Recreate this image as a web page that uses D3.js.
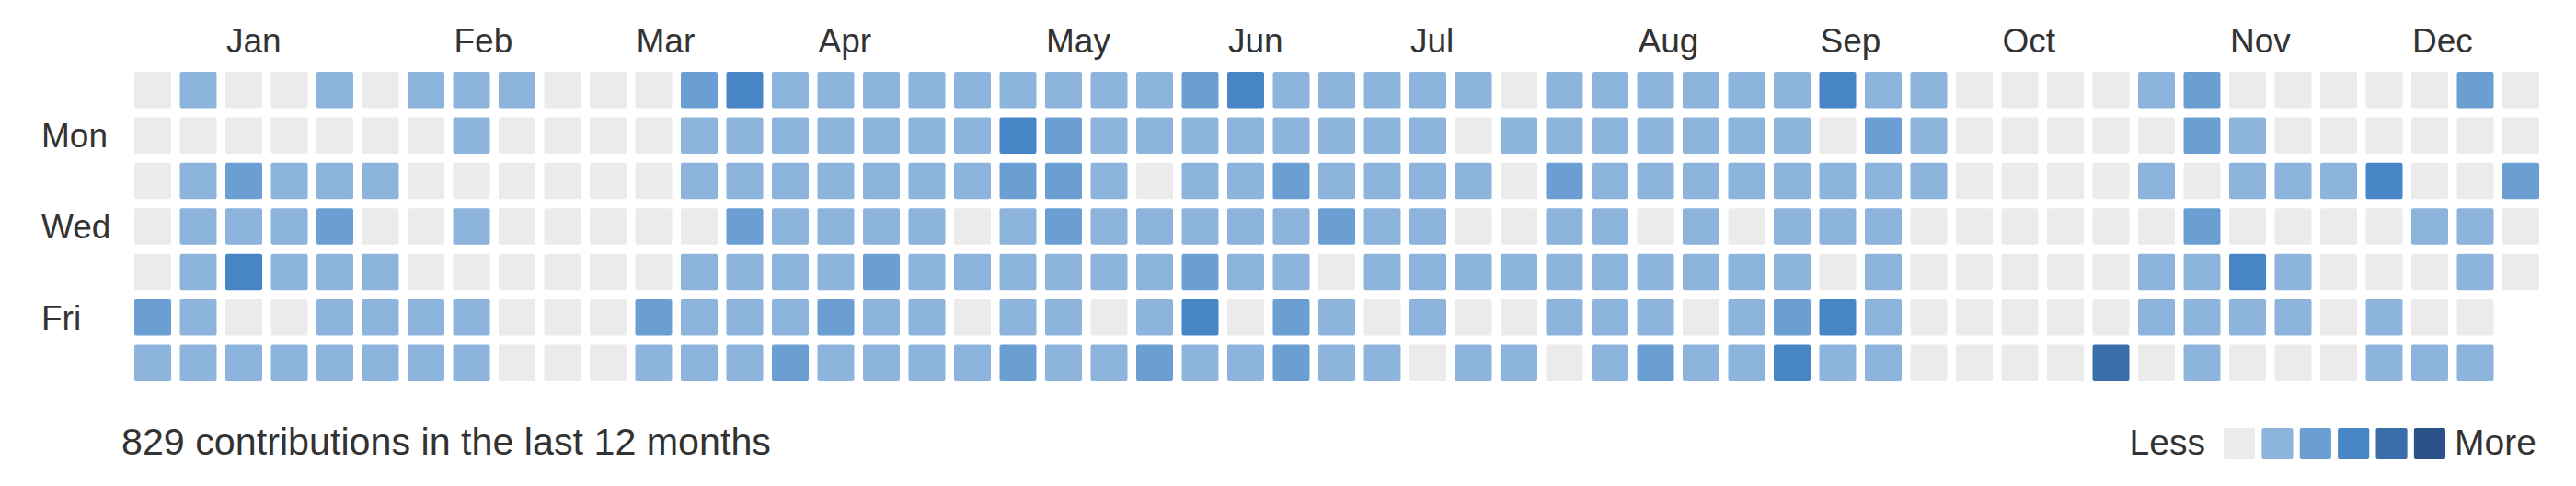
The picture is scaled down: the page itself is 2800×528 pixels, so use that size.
<!DOCTYPE html>
<html>
<head>
<meta charset="utf-8">
<script src="https://cdn.jsdelivr.net/npm/d3@7"></script>
<style>
  html, body { margin: 0; padding: 0; background: #fff; }
  text { font-family: "Liberation Sans", Arial, sans-serif; fill: #333; }
</style>
</head>
<body>
<div id="heatmap"></div>
<script>
// contribution level per week column, one array per weekday (Sun..Sat)
const sun = [0,1,0,0,1,0,1,1,1,0, 0,0,2,3,1,1,1,1,1,1, 1,1,1,2,3,1,1,1,1,1, 0,1,1,1,1,1,1,3,1,1, 0,0,0,0,1,2,0,0,0,0, 0,2,0];
const mon = [0,0,0,0,0,0,0,1,0,0, 0,0,1,1,1,1,1,1,1,3, 2,1,1,1,1,1,1,1,1,0, 1,1,1,1,1,1,1,0,2,1, 0,0,0,0,0,2,1,0,0,0, 0,0,0];
const tue = [0,1,2,1,1,1,0,0,0,0, 0,0,1,1,1,1,1,1,1,2, 2,1,0,1,1,2,1,1,1,1, 0,2,1,1,1,1,1,1,1,1, 0,0,0,0,1,0,1,1,1,3, 0,0,2];
const wed = [0,1,1,1,2,0,0,1,0,0, 0,0,0,2,1,1,1,1,0,1, 2,1,1,1,1,1,2,1,1,0, 0,1,1,0,1,0,1,1,1,0, 0,0,0,0,0,2,0,0,0,0, 1,1,0];
const thu = [0,1,3,1,1,1,0,0,0,0, 0,0,1,1,1,1,2,1,1,1, 1,1,1,2,1,1,0,1,1,1, 1,1,1,1,1,1,1,0,1,0, 0,0,0,0,1,1,3,1,0,0, 0,1,0];
const fri = [2,1,0,0,1,1,1,1,0,0, 0,2,1,1,1,2,1,1,0,1, 1,0,1,3,0,2,1,0,1,0, 0,1,1,1,0,1,2,3,1,0, 0,0,0,0,1,1,1,1,0,1, 0,0];
const sat = [1,1,1,1,1,1,1,1,0,0, 0,1,1,1,2,1,1,1,1,2, 1,1,2,1,1,2,1,1,0,1, 1,0,1,2,1,1,3,1,1,0, 0,0,0,4,0,1,0,0,0,1, 1,1];

const months = ["Jan","Feb","Mar","Apr","May","Jun","Jul","Aug","Sep","Oct","Nov","Dec"];
const monthStartWeek = [2, 7, 11, 15, 20, 24, 28, 33, 37, 41, 46, 50];
const dayLabels = ["", "Mon", "", "Wed", "", "Fri", ""];
const legendLevels = [0, 1, 2, 3, 4, 5];
const summary = "829 contributions in the last 12 months";

const colors = ["#ebebeb", "#8cb4dc", "#6b9ed2", "#4885c7", "#3a6eab", "#2b5288"];

const width = 2800, height = 528;
const weeks = 53;

const svg = d3.select("#heatmap")
  .append("svg")
  .attr("width", width)
  .attr("height", height);

let x = d3.scaleBand()
  .domain(d3.range(weeks))
  .range([146, 2760])
  .paddingInner(0.192);

let y = d3.scaleBand()
  .domain(d3.range(7))
  .range([78, 414])
  .paddingInner(0.2);

let color = d3.scaleOrdinal().domain(legendLevels).range(colors);

let days = [sun, mon, tue, wed, thu, fri, sat];
let cells = [];
days.forEach((row, d) => row.forEach((level, w) => cells.push({ week: w, day: d, level })));

svg.append("g")
  .selectAll("rect")
  .data(cells)
  .join("rect")
  .attr("x", d => x(d.week))
  .attr("y", d => y(d.day))
  .attr("width", x.bandwidth())
  .attr("height", y.bandwidth())
  .attr("rx", 2)
  .attr("fill", d => color(d.level));

// month labels
svg.append("g")
  .selectAll("text")
  .data(months)
  .join("text")
  .attr("x", (d, i) => x(monthStartWeek[i]) + 1)
  .attr("y", 57)
  .attr("font-size", 37)
  .text(d => d);

// weekday labels
svg.append("g")
  .selectAll("text")
  .data(dayLabels)
  .join("text")
  .attr("x", 45)
  .attr("y", (d, i) => y(i) + y.bandwidth() / 2 + 13)
  .attr("font-size", 37)
  .text(d => d);

// summary line
svg.append("text")
  .attr("x", 132)
  .attr("y", 494)
  .attr("font-size", 41)
  .attr("textLength", 706)
  .attr("lengthAdjust", "spacingAndGlyphs")
  .text(summary);

// legend
let lx = d3.scaleBand()
  .domain(legendLevels)
  .range([2417, 2658])
  .paddingInner(0.175);

let legend = svg.append("g");

legend.selectAll("rect")
  .data(legendLevels)
  .join("rect")
  .attr("x", d => lx(d))
  .attr("y", 465)
  .attr("width", lx.bandwidth())
  .attr("height", 34)
  .attr("rx", 2)
  .attr("fill", d => color(d));

legend.append("text")
  .attr("x", 2397)
  .attr("y", 494)
  .attr("text-anchor", "end")
  .attr("font-size", 39)
  .text("Less");

legend.append("text")
  .attr("x", 2668)
  .attr("y", 494)
  .attr("font-size", 39)
  .text("More");
</script>
</body>
</html>
